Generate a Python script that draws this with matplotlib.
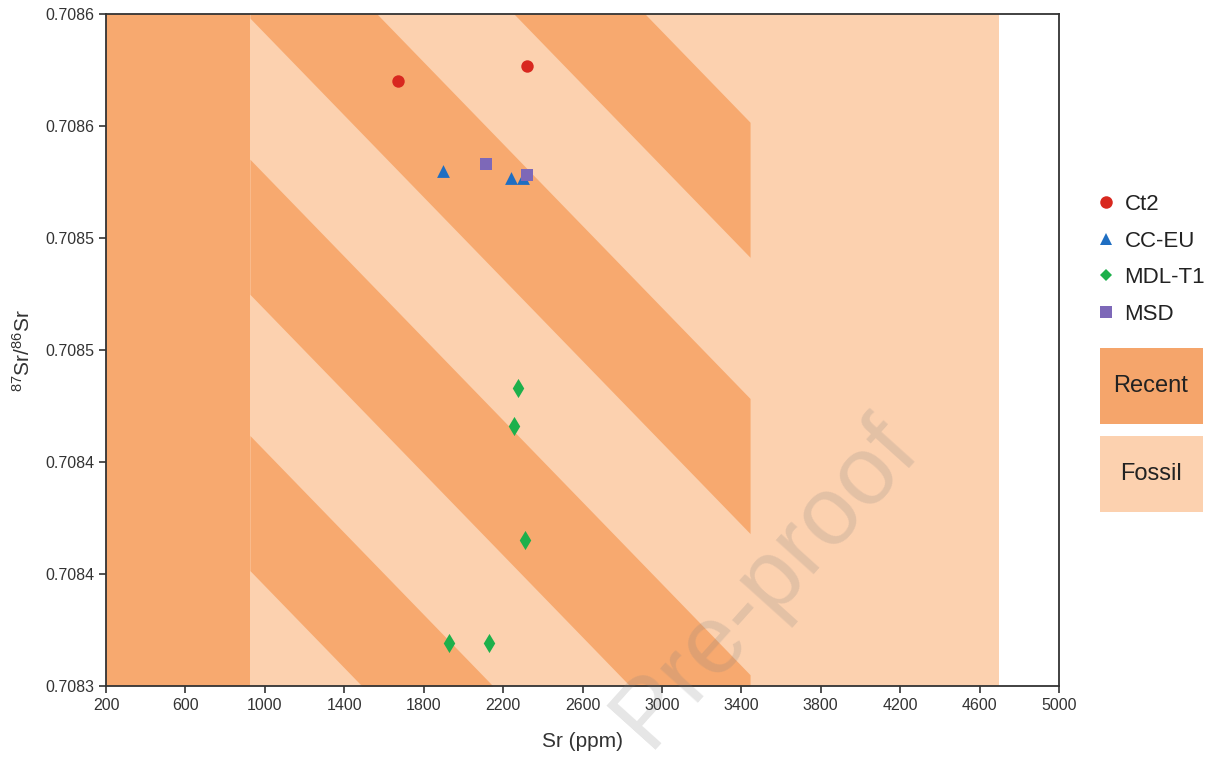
import numpy as np
import matplotlib.pyplot as plt
from matplotlib.lines import Line2D
from matplotlib.patches import Rectangle

plt.rcParams['font.family'] = ['Liberation Sans', 'DejaVu Sans']
plt.rcParams['mathtext.fontset'] = 'custom'
plt.rcParams['mathtext.rm'] = 'Liberation Sans'
plt.rcParams['mathtext.it'] = 'Liberation Sans:italic'

# sample values
ct2_sr = [1671, 2321]
ct2_ratio = [0.708570, 0.708577]
cceu_sr = [1897, 2240, 2300]
cceu_ratio = [0.708530, 0.708527, 0.708527]
mdl_sr = [2275, 2255, 2310, 1928, 2129]
mdl_ratio = [0.708433, 0.708416, 0.708365, 0.708319, 0.708319]
msd_sr = [2114, 2321]
msd_ratio = [0.708533, 0.708528]

# Recent / Fossil fields (Sr ppm)
recent_sr = (200, 925)      # recent only
overlap_sr = (925, 3444)    # both, hatched
fossil_end = 4700

# diagonal hatch of the overlap zone
stripe_starts = [-1795, -445, 905, 2255]   # Sr at top of axis
stripe_width = 660
stripe_shift = 3284                        # Sr drift from top to bottom

xticks = list(range(200, 5001, 400))
yticks = [0.70830, 0.70835, 0.70840, 0.70845, 0.70850, 0.70855, 0.70860]
ytick_labels = ['0.7083', '0.7084', '0.7084', '0.7085', '0.7085', '0.7086', '0.7086']

dark = '#F7A96F'
light = '#FCD1AF'
y0, y1 = yticks[0], yticks[-1]

fig = plt.figure(figsize=(12.28, 7.68), dpi=100)
ax = fig.add_axes([106 / 1228, 1 - 686 / 768, 953 / 1228, 672 / 768])

ax.axvspan(recent_sr[0], recent_sr[1], color=dark, lw=0, zorder=0)
ax.axvspan(overlap_sr[0], fossil_end, color=light, lw=0, zorder=0)

ys = np.linspace(y0, y1, 1200)
for a in stripe_starts:
    left = a + stripe_shift * (y1 - ys) / (y1 - y0)
    ax.fill_betweenx(ys, np.clip(left, *overlap_sr), np.clip(left + stripe_width, *overlap_sr),
                     color=dark, lw=0, zorder=1)

ax.scatter(ct2_sr, ct2_ratio, marker='o', s=80, color='#D8281F', lw=0, zorder=3)
ax.scatter(cceu_sr, cceu_ratio, marker='^', s=85, color='#1F6EC2', lw=0, zorder=3)
ax.scatter(mdl_sr, mdl_ratio, marker='d', s=95, color='#1DB04B', lw=0, zorder=3)
ax.scatter(msd_sr, msd_ratio, marker='s', s=85, color='#7D68B8', lw=0, zorder=3)

ax.set_xlim(200, 5000)
ax.set_ylim(y0, y1)
ax.set_xticks(xticks)
ax.set_yticks(yticks)
ax.set_yticklabels(ytick_labels)
ax.tick_params(direction='out', length=5, width=1.2, labelsize=11.5, labelcolor='#333333', colors='#333333')
for sp in ax.spines.values():
    sp.set_linewidth(1.3)
    sp.set_color('#333333')
ax.set_xlabel('Sr (ppm)', fontsize=15, color='#333333', labelpad=14)
ax.set_ylabel('$^{87}$Sr/$^{86}$Sr', fontsize=15, color='#333333', labelpad=8)

handles = [
    Line2D([], [], ls='none', marker='o', ms=9, color='#D8281F', mew=0, label='Ct2'),
    Line2D([], [], ls='none', marker='^', ms=9, color='#1F6EC2', mew=0, label='CC-EU'),
    Line2D([], [], ls='none', marker='D', ms=6.5, color='#1DB04B', mew=0, label='MDL-T1'),
    Line2D([], [], ls='none', marker='s', ms=8.5, color='#7D68B8', mew=0, label='MSD'),
]
fig.legend(handles=handles, loc='upper left', bbox_to_anchor=(1099 / 1228, 1 - 194 / 768),
           frameon=False, fontsize=16, handlelength=0.6, handletextpad=0.55,
           labelspacing=0.7, borderpad=0, borderaxespad=0, labelcolor='#222222')

for top, name, col in [(348, 'Recent', '#F5A56B'), (436, 'Fossil', light)]:
    fig.add_artist(Rectangle((1100 / 1228, 1 - (top + 76) / 768), 103 / 1228, 76 / 768,
                             transform=fig.transFigure, color=col, lw=0))
    fig.text(1151 / 1228, 1 - (top + 38) / 768, name, ha='center', va='center',
             fontsize=17, color='#222222')

# journal watermark
fig.text(765 / 1228, 1 - 582 / 768, 'Pre-proof', rotation=48, fontsize=70,
         color='#808080', alpha=0.2, ha='center', va='center', rotation_mode='anchor')

fig.savefig('out.png', dpi=100)
